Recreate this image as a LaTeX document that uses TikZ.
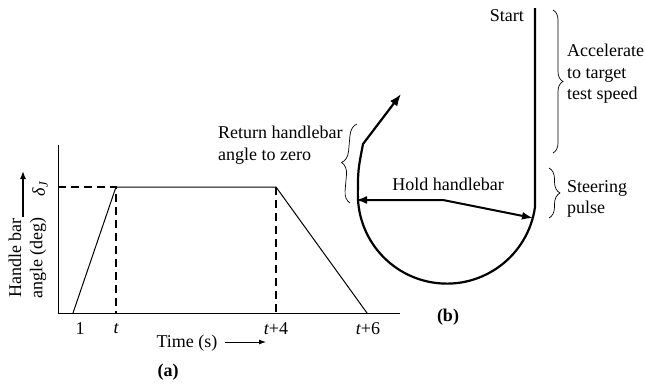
\documentclass[tikz,border=0pt]{standalone}
\usepackage{fontspec}
\setmainfont{Liberation Serif}
\usetikzlibrary{arrows.meta,decorations.pathreplacing}
\begin{document}
\begin{tikzpicture}[x=1pt,y=-1pt,
  txt/.style={font=\fontsize{18}{21.5}\selectfont, inner sep=0pt},
  thinln/.style={line width=1pt},
  thickdash/.style={line width=2.8pt, dash pattern=on 8pt off 5pt},
  trackln/.style={line width=2.2pt},
  brc/.style={decorate, decoration={brace, amplitude=#1}, line width=0.7pt},
  brc/.default=10pt,
]
\useasboundingbox (0,0) rectangle (645,384);
% ---------- (a) graph ----------
\coordinate (O) at (58,313);
\coordinate (ytop) at (58,145);
\coordinate (xend) at (400,313);
\coordinate (r0) at (73,313);
\coordinate (r1) at (116,187);
\coordinate (f1) at (276,187);
\coordinate (f0) at (367,313);
\coordinate (yd) at (58,187);
\coordinate (tb) at (116,313);
\coordinate (t4b) at (276,313);
\draw[thinln] (ytop) -- (O) -- (xend);
\draw[thinln] (r0) -- (r1) -- (f1) -- (f0);
\draw[thickdash] (yd) -- (r1) -- (tb);
\draw[thickdash] (f1) -- (t4b);
\node[txt] (l1) at (80,329) {1};
\node[txt] (lt) at (116,329) {\itshape t};
\node[txt] (lt4) at (276,329) {\itshape t\upshape +4};
\node[txt] (lt6) at (368,329) {\itshape t\upshape +6};
\node[txt] (time) at (187,343) {Time (s)};
\coordinate (ta0) at (225,342);
\coordinate (ta1) at (266,342);
\draw[line width=0.9pt,-{Latex[length=7pt,width=5pt]}] (ta0) -- (ta1);
\node[txt,font=\fontsize{18}{21.5}\selectfont\bfseries] (capa) at (168,372) {(a)};
\node[txt,rotate=90] (yl1) at (15,258) {Handle bar};
\node[txt,rotate=90] (yl2) at (38,258) {angle (deg)};
\coordinate (ya0) at (23,217);
\coordinate (ya1) at (23,171);
\draw[line width=1.4pt,-{Latex[length=8pt,width=6pt]}] (ya0) -- (ya1);
\node[txt,rotate=90] (dj) at (40,189) {\itshape δ\textsubscript{J}};
% ---------- (b) track ----------
\coordinate (start) at (535,8);
\coordinate (turn) at (535,207);
\coordinate (lc1) at (358,170);
\coordinate (lc2) at (363,144);
\coordinate (exit) at (401,94);
\draw[trackln,-{Latex[length=12pt,width=9pt]}] (start) -- (turn)
   arc[start angle=8,end angle=180,radius=89]
   .. controls (lc1) .. (lc2) -- (exit);
\coordinate (hl) at (356,200);
\coordinate (hm) at (443,200);
\coordinate (hr) at (533,218);
\draw[line width=2pt,{Latex[length=11pt,width=8pt]}-{Latex[length=11pt,width=8pt]}] (hl) -- (hm) -- (hr);
\node[txt] (hold) at (448,184) {Hold handlebar};
\node[txt,anchor=east] (start lbl) at (524,16) {Start};
\draw[brc=10pt] (553,10) -- (553,153);
\node[txt,anchor=west,align=left] (acc) at (567,74) {Accelerate\\to target\\test speed};
\draw[brc=11pt] (549,168) -- (549,218);
\node[txt,anchor=west,align=left] (steer) at (567,199) {Steering\\pulse};
\draw[brc=12pt] (350,203) -- (357,124);
\node[txt,anchor=west,align=left] (ret) at (218,145) {Return handlebar\\angle to zero};
\node[txt,font=\fontsize{18}{21.5}\selectfont\bfseries] (capb) at (448,317) {(b)};
\end{tikzpicture}
\end{document}
